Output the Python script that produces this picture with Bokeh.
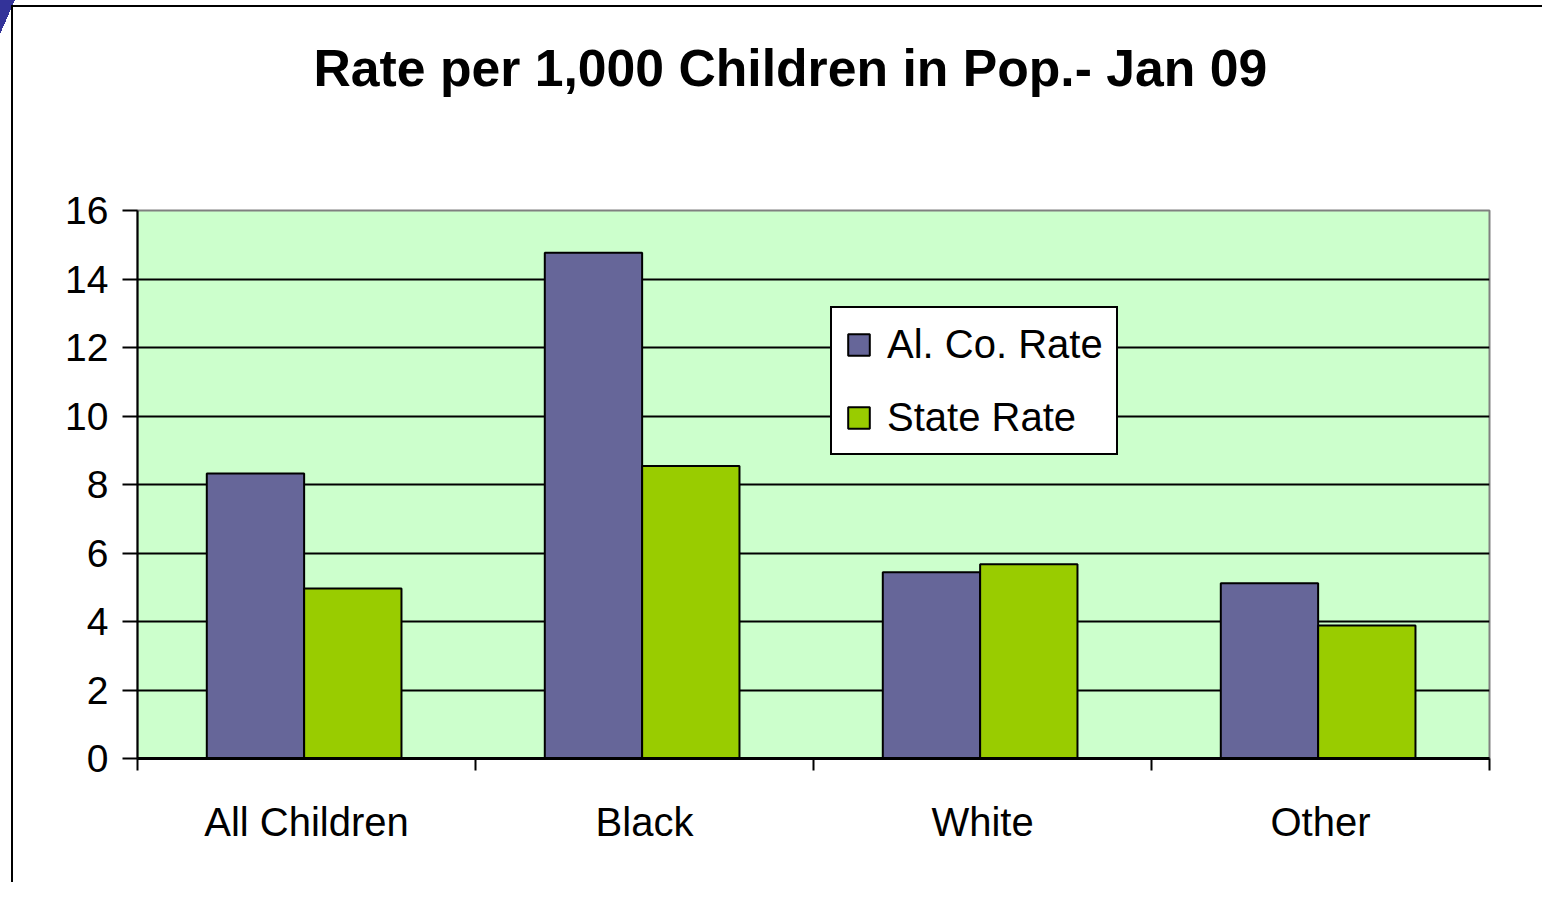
from bokeh.plotting import figure
from bokeh.models import ColumnDataSource, FixedTicker, Legend, LegendItem, Range1d, Title
from bokeh.embed import file_html
from bokeh.resources import INLINE

categories = ["All Children", "Black", "White", "Other"]
al_co_rate = [8.32, 14.77, 5.44, 5.12]
state_rate = [4.96, 8.54, 5.67, 3.88]
y_ticks = [0, 2, 4, 6, 8, 10, 12, 14, 16]
title_text = "Rate per 1,000 Children in Pop.- Jan 09"

FONT = "Liberation Sans"

idx = list(range(len(categories)))
src = ColumnDataSource(dict(
    x_al=[i + 0.5 - 0.151 for i in idx],
    x_st=[i + 0.5 + 0.137 for i in idx],
    al=al_co_rate, st=state_rate,
))

p = figure(width=1542, height=882, output_backend="svg", toolbar_location=None,
           x_range=Range1d(0, len(categories)), y_range=Range1d(0, 16),
           min_border_left=137, min_border_right=53,
           min_border_top=210, min_border_bottom=124,
           background_fill_color="#CCFFCC", border_fill_color=None)

# slide frame (left/top rules) and corner decoration drawn as page background
p.styles = {
    "background-color": "white",
    "background-image": ("linear-gradient(black, black), linear-gradient(black, black), "
                         "linear-gradient(to bottom right, #333399 50%, rgba(0,0,0,0) 50%)"),
    "background-size": "2px 100%, 100% 2px, 15px 34px",
    "background-position": "11px 5px, 11px 5px, 0px 0px",
    "background-repeat": "no-repeat",
}

p.outline_line_color = "#808080"
p.outline_line_width = 2

# title
p.title.text = title_text
p.title.text_font = FONT
p.title.text_font_size = "51.7px"
p.title.text_font_style = "bold"
p.title.text_color = "black"
p.title.align = "left"
p.title.offset = 176
p.title.vertical_align = "bottom"
p.title.standoff = 0

# empty spacer between title and plot area
p.add_layout(Title(text=" ", text_font_size="1px", standoff=111), "above")

r_al = p.vbar(x="x_al", top="al", width=0.288, bottom=0, source=src,
              fill_color="#666699", line_color="black", line_width=2)
r_st = p.vbar(x="x_st", top="st", width=0.288, bottom=0, source=src,
              fill_color="#99CC00", line_color="black", line_width=2)

# y axis
p.yaxis.ticker = FixedTicker(ticks=y_ticks)
p.yaxis.major_label_text_font = FONT
p.yaxis.major_label_text_font_size = "39px"
p.yaxis.major_label_text_color = "black"
p.yaxis.axis_line_color = "black"
p.yaxis.axis_line_width = 2
p.yaxis.major_tick_line_color = "black"
p.yaxis.major_tick_line_width = 2
p.yaxis.major_tick_out = 15
p.yaxis.major_tick_in = 0
p.yaxis.minor_tick_line_color = None
p.yaxis.major_label_standoff = 14

# x axis: labels at category centres, ticks at category boundaries
p.xaxis.ticker = FixedTicker(ticks=[i + 0.5 for i in idx],
                             minor_ticks=list(range(len(categories) + 1)))
p.xaxis.major_label_overrides = {i + 0.5: c for i, c in zip(idx, categories)}
p.xaxis.major_label_text_font = FONT
p.xaxis.major_label_text_font_size = "40px"
p.xaxis.major_label_text_color = "black"
p.xaxis.axis_line_color = "black"
p.xaxis.axis_line_width = 3
p.xaxis.major_tick_line_color = None
p.xaxis.major_tick_out = 0
p.xaxis.major_tick_in = 0
p.xaxis.minor_tick_line_color = "black"
p.xaxis.minor_tick_line_width = 2
p.xaxis.minor_tick_out = 12
p.xaxis.minor_tick_in = 0
p.xaxis.major_label_standoff = 29

p.xgrid.grid_line_color = None
p.ygrid.ticker = FixedTicker(ticks=y_ticks)
p.ygrid.grid_line_color = "black"
p.ygrid.grid_line_width = 2

legend = Legend(items=[LegendItem(label="Al. Co. Rate", renderers=[r_al]),
                       LegendItem(label="State Rate", renderers=[r_st])],
                location=(693, 303))
legend.border_line_color = "black"
legend.border_line_alpha = 1
legend.border_line_width = 2
legend.background_fill_color = "white"
legend.background_fill_alpha = 1
legend.label_text_font = FONT
legend.label_text_font_size = "40px"
legend.label_text_color = "black"
legend.glyph_width = 27
legend.glyph_height = 27
legend.label_height = 46
legend.label_standoff = 15
legend.spacing = 27
legend.padding = 13
legend.margin = 0
p.add_layout(legend, "center")

open("out.html", "w").write(file_html(p, INLINE))
